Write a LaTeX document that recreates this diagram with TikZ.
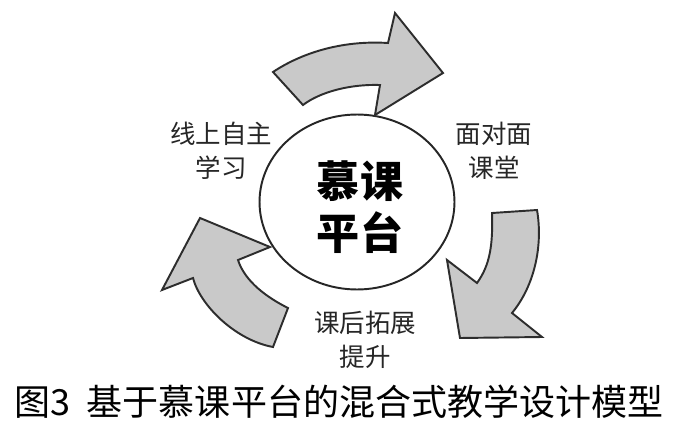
\documentclass[tikz,border=0pt]{standalone}
\usepackage{fontspec}
\newfontfamily\cjk{Noto Sans CJK SC}
\usepackage{tikz}
\usetikzlibrary{shapes.geometric}

\begin{document}
\begin{tikzpicture}[
    x=0.02cm, y=-0.02cm,
    every node/.style={font=\cjk},
    lbl/.style={
        font=\cjk\fontsize{14.5}{19.5}\selectfont,
        text=black!85, align=center, inner sep=0pt
    },
    hubtext/.style={
        font=\cjk\bfseries\fontsize{24.5}{30}\selectfont,
        align=center, inner sep=0pt
    },
    blockarrow/.style={fill=cArrow, draw=cArrowLine, line width=1.1pt, line join=miter}
]
\definecolor{cArrow}{RGB}{201,201,201}
\definecolor{cArrowLine}{RGB}{45,45,45}

\useasboundingbox[fill=white] (0,0) rectangle (685,432);

% Platform
\node[draw=black!85, line width=1.1pt, ellipse, minimum width=3.9cm,
      minimum height=3.5cm, inner sep=0pt] (hub) at (357,202) {};
\node[hubtext] (hubname) at (360,207) {慕课\\平台};

% Cycle arrows
\draw[blockarrow] (273,72) .. controls (300,54) and (340,40) .. (388,43)
    -- (395,13) -- (443,73) -- (375,115) -- (380,85)
    .. controls (350,84) and (320,92) .. (303,105) -- cycle;
\draw[blockarrow] (492,213) -- (537,210)
    .. controls (543,245) and (535,285) .. (512,313)
    -- (542,337) -- (460,338) -- (447,260) -- (477,283)
    .. controls (490,265) and (493,245) .. cycle;
\draw[blockarrow] (273,347) -- (288,308)
    .. controls (268,298) and (245,282) .. (238,260)
    -- (270,247) -- (200,218) -- (162,290) -- (193,278)
    .. controls (200,305) and (235,340) .. cycle;

% Stages
\node[lbl] (online) at (221,151) {线上自主\\学习};
\node[lbl] (classroom) at (494,151) {面对面\\课堂};
\node[lbl] (after) at (365,340) {课后拓展\\提升};

% Caption
\node[font=\cjk\fontsize{20.5}{24}\selectfont, inner sep=0pt] (caption) at (339,402)
    {图3\hspace{0.45em}基于慕课平台的混合式教学设计模型};

\end{tikzpicture}
\end{document}
